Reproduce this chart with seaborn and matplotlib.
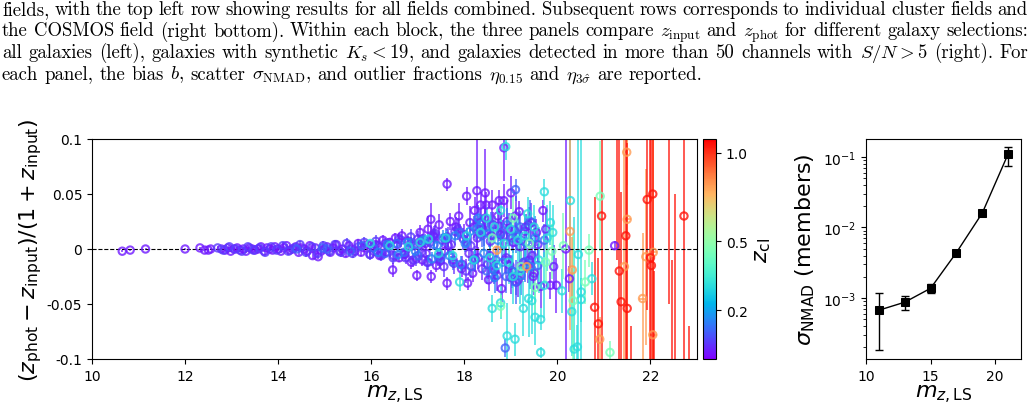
import numpy as np
import pandas as pd
import seaborn as sns
import matplotlib.pyplot as plt
from matplotlib.colors import FuncNorm
from matplotlib.cm import ScalarMappable

# ---- data: photo-z residuals per cluster redshift group ----
# purple, z_cl ~ 0.05 (bright, tight sequence)
mag_a1 = [10.65, 10.82, 11.15, 12.00, 12.32, 12.42, 12.50, 12.55, 12.78, 12.86,
          12.92, 12.98, 13.05, 13.12, 13.18, 13.25, 13.31, 13.38, 13.44, 13.50,
          13.57, 13.63, 13.70, 13.76, 13.82, 13.88, 13.93, 14.00, 14.06, 14.12,
          14.18, 14.25, 14.31, 14.38, 14.44, 14.50, 14.56, 14.62, 14.68, 14.74,
          14.80, 14.86, 14.92, 14.98, 15.05, 15.12, 15.18, 15.25, 15.32, 15.38,
          15.45, 15.52, 15.58, 15.65, 15.72, 15.78, 15.85, 15.92, 15.98, 16.05]
dz_a1 = [-0.002, -0.001, 0.000, 0.000, 0.001, -0.001, -0.001, 0.000, 0.000, -0.001,
         0.001, -0.002, 0.000, 0.001, -0.001, 0.000, -0.002, 0.001, 0.000, -0.001,
         0.000, 0.002, -0.002, 0.001, 0.000, -0.001, 0.002, 0.000, -0.002, 0.001,
         0.003, -0.001, 0.000, 0.002, -0.003, 0.001, 0.000, -0.002, 0.003, -0.006,
         0.001, -0.007, -0.002, 0.000, 0.002, -0.003, 0.001, 0.004, -0.002, 0.000,
         -0.004, 0.003, 0.000, -0.002, 0.005, -0.003, 0.001, 0.004, -0.005, 0.002]
err_a1 = [0.001, 0.001, 0.001, 0.001, 0.001, 0.001, 0.001, 0.001, 0.001, 0.001,
          0.001, 0.001, 0.002, 0.001, 0.002, 0.001, 0.002, 0.001, 0.002, 0.001,
          0.002, 0.002, 0.001, 0.002, 0.002, 0.001, 0.002, 0.002, 0.002, 0.002,
          0.002, 0.002, 0.003, 0.002, 0.002, 0.003, 0.002, 0.003, 0.002, 0.003,
          0.003, 0.002, 0.003, 0.003, 0.003, 0.003, 0.004, 0.003, 0.003, 0.004,
          0.003, 0.004, 0.003, 0.004, 0.004, 0.003, 0.004, 0.004, 0.004, 0.004]

# violet, z_cl ~ 0.08 (fills the bright sequence)
mag_g = [12.70, 12.82, 12.95, 13.08, 13.22, 13.35, 13.47, 13.60, 13.72, 13.85,
         13.97, 14.10, 14.22, 14.35, 14.47, 14.60, 14.72, 14.85, 14.97, 15.10,
         15.22, 15.35, 15.47, 15.60, 15.72, 15.85, 15.97, 16.10, 16.22, 16.35,
         16.47, 16.60, 16.72, 16.85, 16.97, 17.10, 17.22, 17.35, 17.47, 17.60]
dz_g = [0.001, -0.001, 0.002, 0.000, -0.002, 0.002, -0.001, 0.001, -0.003, 0.002,
        -0.001, 0.003, -0.002, 0.001, 0.004, -0.003, 0.002, -0.004, 0.003, -0.002,
        0.004, -0.003, 0.005, -0.004, 0.002, 0.006, -0.005, 0.007, -0.006, 0.004,
        -0.008, 0.009, -0.004, 0.011, -0.009, 0.006, -0.012, 0.013, -0.007, 0.010]
err_g = [0.002, 0.002, 0.002, 0.002, 0.002, 0.002, 0.002, 0.003, 0.002, 0.003,
         0.003, 0.003, 0.003, 0.003, 0.003, 0.004, 0.003, 0.004, 0.004, 0.004,
         0.004, 0.004, 0.005, 0.004, 0.005, 0.005, 0.005, 0.006, 0.005, 0.006,
         0.006, 0.006, 0.007, 0.007, 0.006, 0.008, 0.007, 0.008, 0.008, 0.009]

# purple, z_cl ~ 0.05 (fainter, more scatter)
mag_a2 = [16.10, 16.18, 16.25, 16.32, 16.40, 16.46, 16.52, 16.60, 16.66, 16.72,
          16.80, 16.86, 16.92, 16.98, 17.05, 17.10, 17.16, 17.22, 17.28, 17.29,
          17.35, 17.40, 17.46, 17.52, 17.58, 17.63, 17.63, 17.70, 17.76, 17.82,
          17.88, 17.94, 18.00, 18.05, 18.07, 18.12, 18.18, 18.22, 18.27, 18.30,
          18.35, 18.40, 18.45, 18.47, 18.52, 18.58, 18.60, 18.66, 18.72, 18.75,
          18.80, 18.85, 18.85, 18.92, 18.98, 19.00, 19.05, 19.12, 19.18, 19.25,
          19.32, 19.40, 19.48, 19.55, 19.69, 19.85, 19.98, 20.18, 20.26, 21.23]
dz_a2 = [0.004, -0.006, 0.008, -0.003, 0.006, -0.019, 0.010, -0.008, 0.012, -0.005,
         0.007, -0.012, 0.003, -0.024, 0.015, -0.010, 0.005, 0.018, 0.027, -0.025,
         0.011, -0.015, 0.022, 0.008, -0.002, 0.059, -0.031, 0.025, -0.010, 0.020,
         0.030, -0.018, 0.013, 0.048, -0.031, 0.024, -0.022, 0.035, 0.053, -0.008,
         0.040, 0.018, 0.051, 0.040, -0.028, 0.012, 0.040, -0.020, 0.030, 0.044,
         -0.036, 0.092, 0.044, 0.025, -0.015, 0.051, 0.006, -0.030, 0.034, -0.018,
         0.020, -0.010, -0.025, 0.015, 0.035, -0.033, -0.033, 0.000, -0.027, 0.003]
err_a2 = [0.003, 0.004, 0.005, 0.003, 0.004, 0.006, 0.005, 0.004, 0.006, 0.004,
          0.005, 0.006, 0.004, 0.005, 0.007, 0.005, 0.004, 0.012, 0.015, 0.006,
          0.008, 0.006, 0.010, 0.006, 0.005, 0.006, 0.006, 0.008, 0.007, 0.009,
          0.012, 0.007, 0.010, 0.008, 0.006, 0.015, 0.008, 0.012, 0.060, 0.010,
          0.012, 0.010, 0.040, 0.012, 0.010, 0.008, 0.014, 0.010, 0.012, 0.010,
          0.012, 0.030, 0.015, 0.020, 0.010, 0.015, 0.010, 0.012, 0.010, 0.010,
          0.012, 0.010, 0.014, 0.012, 0.010, 0.012, 0.025, 0.220, 0.012, 0.004]

# purple, z_cl ~ 0.07 (core of the faint blob)
mag_p = [16.05, 16.14, 16.22, 16.30, 16.38, 16.48, 16.56, 16.64, 16.74, 16.82,
         16.90, 17.00, 17.08, 17.20, 17.26, 17.38, 17.44, 17.56, 17.64, 17.72,
         17.78, 17.86, 17.98, 18.04, 18.14, 18.24, 18.34, 18.42, 18.50, 18.56,
         18.64, 18.74, 18.84, 18.90, 19.00, 19.08, 19.20, 19.28, 19.38, 19.46]
dz_p = [-0.002, 0.003, -0.004, 0.005, 0.001, -0.006, 0.004, 0.008, -0.008, 0.002,
        -0.010, 0.009, -0.003, -0.012, 0.006, 0.014, -0.007, -0.016, 0.011, 0.004,
        -0.013, 0.018, 0.009, -0.020, 0.003, -0.009, 0.024, 0.015, -0.014, 0.007,
        -0.019, 0.021, 0.012, -0.008, -0.026, 0.017, 0.002, -0.012, 0.022, -0.006]
err_p = [0.004, 0.004, 0.004, 0.005, 0.005, 0.005, 0.005, 0.006, 0.006, 0.006,
         0.006, 0.007, 0.007, 0.007, 0.008, 0.008, 0.008, 0.009, 0.009, 0.009,
         0.010, 0.010, 0.010, 0.011, 0.011, 0.012, 0.012, 0.012, 0.013, 0.013,
         0.013, 0.014, 0.014, 0.014, 0.015, 0.015, 0.015, 0.016, 0.016, 0.016]

# purple, z_cl ~ 0.06 (dense faint blob)
mag_k = [17.02, 17.18, 17.33, 17.48, 17.66, 17.80, 17.96, 18.10, 18.20, 18.28,
         18.38, 18.44, 18.55, 18.62, 18.70, 18.78, 18.88, 18.95, 19.03, 19.10,
         19.16, 19.22, 19.30, 19.36, 19.44, 19.50, 19.58, 19.64, 19.75, 19.92]
dz_k = [0.006, -0.004, 0.012, -0.011, 0.003, 0.016, -0.014, -0.004, 0.020, 0.010,
        -0.018, 0.028, -0.006, 0.022, -0.024, 0.013, -0.010, 0.018, -0.020, 0.030,
        -0.028, 0.008, 0.016, -0.015, 0.024, -0.022, 0.004, -0.034, 0.018, -0.016]
err_k = [0.005, 0.006, 0.006, 0.007, 0.006, 0.008, 0.008, 0.007, 0.010, 0.009,
         0.010, 0.012, 0.010, 0.012, 0.014, 0.012, 0.012, 0.015, 0.014, 0.018,
         0.016, 0.014, 0.015, 0.016, 0.018, 0.020, 0.015, 0.020, 0.018, 0.020]

# blue, z_cl ~ 0.12
mag_b = [14.40, 14.95, 15.05, 15.55, 15.80, 16.05, 16.30, 16.55, 16.70, 16.85,
         17.00, 17.15, 17.35, 17.50, 17.62, 17.75, 17.90, 18.05, 18.15, 18.25,
         18.38, 18.48, 18.58, 18.68, 18.78, 18.90, 19.02, 19.10, 19.20, 19.30,
         19.42, 19.58, 19.72, 19.10, 18.88]
dz_b = [0.000, 0.001, 0.000, -0.002, 0.003, 0.001, -0.004, 0.005, -0.003, 0.006,
        -0.006, 0.008, 0.004, -0.008, 0.010, -0.012, 0.015, 0.006, -0.016, 0.018,
        0.012, -0.020, 0.022, -0.010, 0.015, -0.025, 0.010, -0.030, 0.020, -0.012,
        0.025, -0.015, 0.008, 0.054, -0.090]
err_b = [0.002, 0.002, 0.002, 0.003, 0.003, 0.003, 0.004, 0.004, 0.004, 0.005,
         0.005, 0.006, 0.005, 0.006, 0.008, 0.007, 0.008, 0.008, 0.010, 0.010,
         0.010, 0.012, 0.012, 0.012, 0.015, 0.015, 0.012, 0.020, 0.015, 0.018,
         0.020, 0.020, 0.015, 0.010, 0.008]

# blue, z_cl ~ 0.16 (dense faint blob)
mag_h = [16.15, 16.35, 16.58, 16.78, 16.95, 17.12, 17.30, 17.42, 17.55, 17.68,
         17.80, 17.92, 18.02, 18.12, 18.22, 18.32, 18.42, 18.52, 18.62, 18.72,
         18.82, 18.92, 19.02, 19.12, 19.22, 19.32, 19.42, 19.52, 18.30, 18.65]
dz_h = [-0.003, 0.004, -0.005, 0.006, -0.002, 0.008, -0.009, 0.003, 0.010, -0.006,
        0.012, -0.014, 0.005, 0.016, -0.010, 0.020, -0.004, 0.014, -0.018, 0.008,
        -0.012, 0.022, -0.020, 0.012, -0.024, 0.006, -0.016, 0.010, 0.028, -0.026]
err_h = [0.004, 0.004, 0.005, 0.005, 0.005, 0.006, 0.006, 0.006, 0.007, 0.007,
         0.008, 0.008, 0.008, 0.010, 0.010, 0.010, 0.012, 0.012, 0.012, 0.014,
         0.014, 0.015, 0.015, 0.016, 0.018, 0.018, 0.020, 0.020, 0.012, 0.014]

# cyan, z_cl ~ 0.3
mag_c = [15.98, 16.40, 16.80, 17.05, 17.23, 17.45, 17.60, 17.75, 17.90, 18.05,
         18.20, 18.35, 18.48, 18.55, 18.60, 18.65, 18.70, 18.78, 18.78, 18.85,
         18.89, 18.92, 18.95, 19.00, 19.05, 19.09, 19.15, 19.20, 19.27, 19.30,
         19.36, 19.38, 19.45, 19.50, 19.52, 19.60, 19.64, 19.64, 19.72, 19.72,
         19.78, 19.85, 19.90, 20.10, 20.28, 20.31, 20.36, 20.43, 20.45, 20.51,
         20.51, 20.74]
dz_c = [0.005, 0.003, 0.002, 0.006, 0.009, -0.004, 0.010, -0.006, -0.030, 0.012,
        -0.010, 0.015, 0.028, -0.008, -0.054, 0.020, -0.015, -0.049, 0.035, 0.005,
        0.093, -0.079, -0.012, 0.018, -0.025, -0.082, 0.008, -0.020, -0.054, 0.012,
        0.032, -0.045, -0.047, 0.020, -0.062, -0.010, -0.064, -0.094, 0.052, -0.033,
        0.010, 0.024, 0.015, -0.038, 0.044, -0.057, -0.091, -0.089, -0.005, -0.039,
        -0.046, -0.027]
err_c = [0.003, 0.003, 0.004, 0.004, 0.005, 0.005, 0.006, 0.006, 0.008, 0.007,
         0.008, 0.008, 0.010, 0.010, 0.012, 0.010, 0.012, 0.015, 0.010, 0.010,
         0.012, 0.030, 0.020, 0.015, 0.025, 0.015, 0.020, 0.030, 0.025, 0.020,
         0.015, 0.035, 0.030, 0.020, 0.025, 0.030, 0.010, 0.005, 0.012, 0.030,
         0.030, 0.020, 0.025, 0.020, 0.060, 0.040, 0.120, 0.020, 0.200, 0.150,
         0.020, 0.015]

# light green, z_cl ~ 0.45
mag_d = [18.60, 18.78, 19.05, 19.22, 19.40, 19.52, 19.75, 19.88, 20.13, 20.34,
         20.60, 20.68, 20.92, 21.13]
dz_d = [0.010, -0.052, 0.028, -0.016, 0.005, -0.035, -0.012, -0.002, 0.003, -0.047,
        -0.030, -0.001, 0.048, -0.094]
err_d = [0.008, 0.010, 0.020, 0.015, 0.012, 0.020, 0.020, 0.025, 0.030, 0.060,
         0.020, 0.015, 0.050, 0.010]

# orange, z_cl ~ 0.8
mag_e = [18.70, 19.34, 20.27, 20.32, 20.91, 21.44, 21.49, 21.50, 21.83, 21.90, 22.05, 22.06]
dz_e = [-0.001, -0.016, 0.016, -0.019, -0.082, -0.016, 0.088, 0.027, -0.045, -0.007, -0.078, -0.003]
err_e = [0.004, 0.006, 0.090, 0.030, 0.020, 0.200, 0.030, 0.150, 0.060, 0.080, 0.200, 0.150]
xerr_e = [0.0, 0.0, 0.0, 0.0, 0.0, 0.0, 0.03, 0.08, 0.07, 0.0, 0.08, 0.08]

# red, z_cl ~ 1.05
mag_f = [20.80, 20.88, 20.95, 21.28, 21.33, 21.37, 21.47, 21.50, 21.58, 21.93,
         22.00, 22.02, 22.05, 22.08, 22.40, 22.47, 22.52, 22.72, 22.82]
dz_f = [-0.053, -0.068, 0.030, 0.150, -0.020, -0.048, 0.012, -0.054, -0.130, 0.045,
        -0.008, -0.015, 0.050, -0.120, 0.150, -0.130, -0.150, 0.030, -0.140]
err_f = [0.100, 0.060, 0.150, 0.160, 0.180, 0.100, 0.200, 0.150, 0.060, 0.100,
         0.150, 0.200, 0.250, 0.100, 0.200, 0.120, 0.200, 0.130, 0.070]

# sigma_NMAD of members per magnitude bin
mag_bins = [11, 13, 15, 17, 19, 21]
sig_nmad = [6.7e-4, 8.7e-4, 1.37e-3, 4.4e-3, 1.6e-2, 0.11]
sig_lo = [1.8e-4, 6.8e-4, 1.18e-3, 4.1e-3, 1.5e-2, 0.075]
sig_hi = [1.17e-3, 1.05e-3, 1.58e-3, 4.7e-3, 1.7e-2, 0.14]

caption = [
    "fields, with the top left row showing results for all fields combined. Subsequent rows corresponds to individual cluster fields and",
    r"the COSMOS field (right bottom). Within each block, the three panels compare $z_{\mathrm{input}}$ and $z_{\mathrm{phot}}$ for different galaxy selections:",
    r"all galaxies (left), galaxies with synthetic $K_s<19$, and galaxies detected in more than 50 channels with $S/N>5$ (right). For",
    r"each panel, the bias $b$, scatter $\sigma_{\mathrm{NMAD}}$, and outlier fractions $\eta_{0.15}$ and $\eta_{3\hat{\sigma}}$ are reported.",
]

W, H = 1034, 414
fig = plt.figure(figsize=(W / 100, H / 100), dpi=100)

norm = FuncNorm((lambda z: np.log10(1 + z), lambda y: 10 ** y - 1), vmin=0.024, vmax=1.09)
cmap = plt.get_cmap("rainbow")

ax = fig.add_axes([92 / W, 1 - 360 / H, 605 / W, 220 / H])
cax = fig.add_axes([703 / W, 1 - 360 / H, 13 / W, 220 / H])
ax2 = fig.add_axes([866 / W, 1 - 360 / H, 155 / W, 220 / H])

groups = [
    (mag_a1, dz_a1, err_a1, None, 0.05),
    (mag_g, dz_g, err_g, None, 0.08),
    (mag_a2, dz_a2, err_a2, None, 0.05),
    (mag_p, dz_p, err_p, None, 0.07),
    (mag_k, dz_k, err_k, None, 0.06),
    (mag_b, dz_b, err_b, None, 0.12),
    (mag_h, dz_h, err_h, None, 0.16),
    (mag_c, dz_c, err_c, None, 0.30),
    (mag_d, dz_d, err_d, None, 0.45),
    (mag_e, dz_e, err_e, xerr_e, 0.80),
    (mag_f, dz_f, err_f, None, 1.05),
]

for m, d, e, xe, z in groups:
    col = cmap(norm(z))
    ax.errorbar(m, d, yerr=e, xerr=xe, fmt="none", ecolor=col, elinewidth=1.4, alpha=0.7, zorder=2)
    df = pd.DataFrame({"mag": m, "dz": d, "zcl": z})
    sns.scatterplot(data=df, x="mag", y="dz", hue="zcl", palette="rainbow", hue_norm=norm,
                    s=28, legend=False, ax=ax, zorder=3)
    pts = ax.collections[-1]
    pts.set_edgecolors(pts.get_facecolors())
    pts.set_facecolors("none")
    pts.set_linewidths(1.5)
    pts.set_alpha(0.8)

ax.axhline(0, color="k", ls="--", lw=0.8, zorder=2.5)
ax.set_xlim(10, 23)
ax.set_ylim(-0.1, 0.1)
ax.set_xticks([10, 12, 14, 16, 18, 20, 22])
ax.set_yticks([-0.1, -0.05, 0, 0.05, 0.1])
ax.set_yticklabels(["-0.1", "-0.05", "0", "0.05", "0.1"])
ax.tick_params(labelsize=10)
ax.set_xlabel(r"$m_{z,\mathrm{LS}}$", fontsize=16, labelpad=0)
ax.set_ylabel(r"$(z_{\mathrm{phot}}-z_{\mathrm{input}})/(1+z_{\mathrm{input}})$", fontsize=16, labelpad=2)

cb = fig.colorbar(ScalarMappable(norm=norm, cmap=cmap), cax=cax, ticks=[0.2, 0.5, 1.0])
cb.ax.set_yticklabels(["0.2", "0.5", "1.0"])
cb.ax.tick_params(labelsize=10)
cb.set_label(r"$z_{\mathrm{cl}}$", fontsize=16)

# right panel
sns.lineplot(x=mag_bins, y=sig_nmad, color="k", marker="s", markersize=6, lw=1,
             markeredgecolor="k", ax=ax2)
yerr = [np.array(sig_nmad) - np.array(sig_lo), np.array(sig_hi) - np.array(sig_nmad)]
ax2.errorbar(mag_bins, sig_nmad, yerr=yerr, fmt="none", ecolor="k", capsize=3, elinewidth=1)
ax2.set_yscale("log")
ax2.set_xlim(10, 22)
ax2.set_ylim(1.36e-4, 0.18)
ax2.set_xticks([10, 15, 20])
ax2.tick_params(labelsize=10)
ax2.set_xlabel(r"$m_{z,\mathrm{LS}}$", fontsize=16, labelpad=0)
ax2.set_ylabel(r"$\sigma_{\mathrm{NMAD}}$ (members)", fontsize=16)

# caption text above the figure, justified like the paper
r = fig.canvas.get_renderer()
fs = 13.5
baselines = [15, 36.5, 58, 79.5]
x0, x1 = 2, 1028


def measure(s):
    t = fig.text(0, 0, s, fontsize=fs, family="cmr10", math_fontfamily="cm", va="baseline")
    return t, t.get_window_extent(r).width


t1, w_ab = measure("a b")
t2, w_a = measure("ab")
space = w_ab - w_a
t1.remove()
t2.remove()

for i, (line, yb) in enumerate(zip(caption, baselines)):
    words = line.split(" ")
    arts = [measure(w) for w in words]
    total = sum(a[1] for a in arts)
    gap = (x1 - x0 - total) / (len(words) - 1) if i < len(caption) - 1 else space
    x = x0
    for t, w in arts:
        t.set_position((x / W, 1 - yb / H))
        x += w + gap

fig.savefig("out.png", dpi=100, facecolor="white")
